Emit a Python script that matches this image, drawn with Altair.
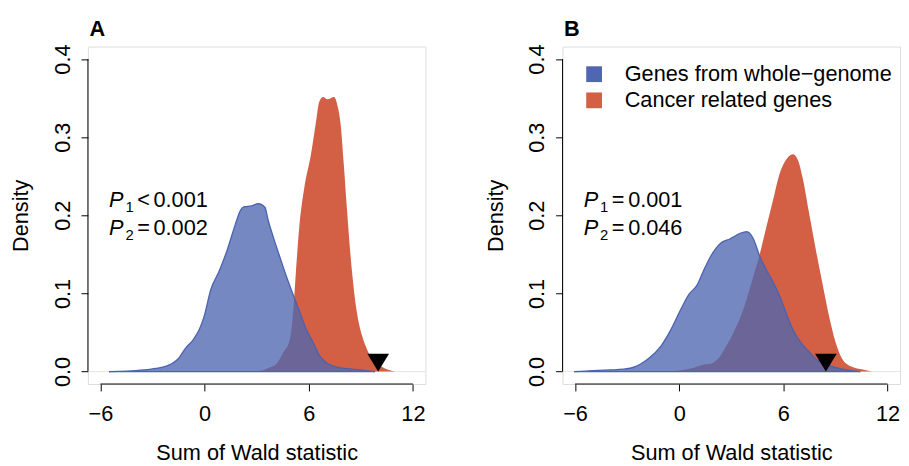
import altair as alt
import pandas as pd

FONT = "Liberation Sans"

# ---- scales / ticks (R-style 4% extension of xlim=c(-6,12), ylim=c(0,0.4)) ----
X_DOMAIN = [-6.72, 12.72]
Y_DOMAIN = [-0.016, 0.416]
X_TICKS = [-6, 0, 6, 12]
Y_TICKS = [0.0, 0.1, 0.2, 0.3, 0.4]

GROUPS = ["Genes from whole\u2212genome", "Cancer related genes"]
COLORS = ["#5066b0", "#d35f45"]
PANEL_LABELS = ["A", "B"]

# ---- Panel A densities ----
a_blue_x = [-5.5, -4.5, -3.5, -2.8, -2.2, -1.9, -1.53, -1.06, -0.68, -0.3, -0.02, 0.36, 0.83, 1.31,
            1.78, 2.06, 2.3, 2.7, 3.1, 3.48, 3.67, 3.96, 4.33, 4.71, 5.09, 5.47, 5.85, 6.23, 6.6,
            6.98, 7.55, 8.5, 9.82]
a_blue_y = [0.0, 0.0005, 0.002, 0.004, 0.007, 0.010, 0.016, 0.031, 0.040, 0.054, 0.071, 0.105, 0.128,
            0.156, 0.189, 0.206, 0.211, 0.212, 0.215, 0.210, 0.193, 0.172, 0.147, 0.122, 0.099,
            0.077, 0.054, 0.038, 0.021, 0.012, 0.006, 0.003, 0.0]
a_red_x = [2.6, 3.2, 3.6, 4.15, 4.55, 4.9, 5.1, 5.28, 5.47, 5.75, 6.13, 6.42, 6.6, 6.83, 7.08, 7.46,
           7.65, 7.84, 8.02, 8.22, 8.5, 8.78, 9.07, 9.35, 9.64, 10.2, 10.96]
a_red_y = [0.0, 0.001, 0.004, 0.010, 0.025, 0.040, 0.075, 0.134, 0.189, 0.236, 0.278, 0.320, 0.345,
           0.3515, 0.3486, 0.3515, 0.341, 0.316, 0.265, 0.202, 0.126, 0.075, 0.046, 0.029, 0.016,
           0.006, 0.0]

# ---- Panel B densities ----
b_blue_x = [-6.05, -5.0, -4.0, -3.2, -2.56, -2.2, -1.8, -1.04, -0.47, 0.1, 0.57, 1.04, 1.42, 1.8,
            2.37, 2.94, 3.51, 3.89, 4.27, 4.65, 5.02, 5.4, 5.78, 6.16, 6.54, 6.92, 7.49, 8.06,
            8.6, 9.2, 10.43]
b_blue_y = [0.0, 0.001, 0.002, 0.003, 0.006, 0.010, 0.016, 0.033, 0.054, 0.080, 0.099, 0.111, 0.130,
            0.147, 0.164, 0.170, 0.177, 0.179, 0.170, 0.147, 0.130, 0.115, 0.097, 0.075, 0.054,
            0.040, 0.025, 0.013, 0.008, 0.004, 0.0]
b_red_x = [-0.7, 0.2, 0.85, 1.42, 1.8, 2.0, 2.3, 2.56, 3.13, 3.7, 4.27, 4.65, 5.02, 5.4, 5.78, 6.16,
           6.54, 6.83, 7.11, 7.49, 7.87, 8.25, 8.63, 9.0, 9.39, 9.95, 10.7, 11.1]
b_red_y = [0.0, 0.002, 0.005, 0.009, 0.010, 0.012, 0.018, 0.027, 0.050, 0.080, 0.122, 0.151, 0.185,
           0.219, 0.253, 0.271, 0.278, 0.271, 0.248, 0.202, 0.156, 0.113, 0.071, 0.038, 0.016,
           0.006, 0.002, 0.0]

# observed statistic markers
markers = [10.0, 8.45]

# annotations
annot_x = -5.5
annot_y = [0.21, 0.1745]
subs = ["1", "2"]
a_rel = ["<", "="]
a_val = ["0.001", "0.002"]
b_rel = ["=", "="]
b_val = ["0.001", "0.046"]

TRI = "M-1,-1.64L1,-1.64L0,0Z"

xaxis = alt.Axis(values=X_TICKS, format="d", domain=False, grid=False, tickSize=7, tickColor="black",
                 tickWidth=1, labelFontSize=22, labelFont=FONT, labelColor="black", labelPadding=30,
                 labelBaseline="alphabetic", labelFlush=False, labelOverlap=False,
                 titleFontSize=22, titleFont=FONT, titleFontWeight="normal", titleColor="black",
                 titleX=171, titleY=76, titleBaseline="alphabetic")
yaxis = alt.Axis(values=Y_TICKS, format=".1f", domain=False, grid=False, tickSize=7, tickColor="black",
                 tickWidth=1, labelFontSize=22, labelFont=FONT, labelColor="black", labelPadding=12,
                 labelAngle=270, labelAlign="center", labelBaseline="alphabetic", labelFlush=False,
                 labelOverlap=False, titleFontSize=22, titleFont=FONT, titleFontWeight="normal",
                 titleColor="black", titleX=-61, titleY=171, titleAngle=270, titleBaseline="alphabetic")

XS = alt.Scale(domain=X_DOMAIN, nice=False, zero=False)
YS = alt.Scale(domain=Y_DOMAIN, nice=False, zero=False)


def X(field="x"):
    return alt.X(f"{field}:Q", scale=XS, axis=xaxis, title="Sum of Wald statistic")


def Y(field="y"):
    return alt.Y(f"{field}:Q", scale=YS, axis=yaxis, title="Density")


def panel(label, bx, by, rx, ry, marker, rels, vals, show_legend):
    blue = pd.DataFrame({"x": bx, "y": by, "group": GROUPS[0]})
    red = pd.DataFrame({"x": rx, "y": ry, "group": GROUPS[1]})
    if show_legend:
        leg = alt.Legend(orient="none", legendX=21, legendY=17, title=None, symbolType="square",
                         symbolSize=256, symbolOpacity=1, symbolStrokeWidth=0, labelFontSize=22,
                         labelFont=FONT, labelColor="black", labelOffset=20, rowPadding=4.5, padding=0,
                         labelLimit=0)
    else:
        leg = None
    color = alt.Color("group:N", scale=alt.Scale(domain=GROUPS, range=COLORS), legend=leg)

    zero = alt.Chart(pd.DataFrame({"x": [X_DOMAIN[0]], "x2": [X_DOMAIN[1]], "y": [0.0]})).mark_rule(
        color="#e6e6e6", strokeWidth=1).encode(x=X(), x2="x2:Q", y=Y())
    xline = alt.Chart(pd.DataFrame({"x": [X_TICKS[0]], "x2": [X_TICKS[-1]], "y": [Y_DOMAIN[0]]})).mark_rule(
        color="black", strokeWidth=1).encode(x=X(), x2="x2:Q", y=Y())
    yline = alt.Chart(pd.DataFrame({"x": [X_DOMAIN[0]], "y": [Y_TICKS[0]], "y2": [Y_TICKS[-1]]})).mark_rule(
        color="black", strokeWidth=1).encode(x=X(), y=Y(), y2="y2:Q")

    red_area = alt.Chart(red).mark_area(interpolate="monotone", opacity=1).encode(x=X(), y=Y(), color=color)
    blue_area = alt.Chart(blue).mark_area(interpolate="monotone", opacity=0.78).encode(x=X(), y=Y(), color=color)
    blue_line = alt.Chart(blue).mark_line(interpolate="monotone", color="#4a62b0", strokeWidth=1.3).encode(
        x=X(), y=Y())
    blue_base = alt.Chart(pd.DataFrame({"x": [bx[0]], "x2": [bx[-1]], "y": [0.0]})).mark_rule(
        color="#4a62b0", strokeWidth=1.3).encode(x=X(), x2="x2:Q", y=Y())

    tri = alt.Chart(pd.DataFrame({"x": [marker], "y": [0.0]})).mark_point(
        shape=TRI, filled=True, color="black", size=484, opacity=1, strokeWidth=0).encode(x=X(), y=Y())

    ann = pd.DataFrame({"x": [annot_x] * 2, "y": annot_y, "sub": subs, "rel": rels, "val": vals,
                        "p": ["P", "P"]})
    tbase = alt.Chart(ann)
    common = dict(align="left", baseline="alphabetic", font=FONT, color="black")
    t_p = tbase.mark_text(fontSize=22, fontStyle="italic", **common).encode(x=X(), y=Y(), text="p:N")
    t_s = tbase.mark_text(fontSize=15, dx=16.5, dy=4.5, **common).encode(x=X(), y=Y(), text="sub:N")
    t_r = tbase.mark_text(fontSize=22, dx=28.5, **common).encode(x=X(), y=Y(), text="rel:N")
    t_v = tbase.mark_text(fontSize=22, dx=45, **common).encode(x=X(), y=Y(), text="val:N")

    # panel letter at the top-left corner of the plotting region
    t_lab = alt.Chart(pd.DataFrame({"x": [X_DOMAIN[0]], "y": [Y_DOMAIN[1]], "lab": [label]})).mark_text(
        fontSize=22, fontWeight="bold", dx=1.5, dy=-11, **common).encode(x=X(), y=Y(), text="lab:N")

    return alt.layer(zero, red_area, blue_area, blue_line, blue_base, tri, t_p, t_s, t_r, t_v,
                     xline, yline, t_lab).properties(width=342, height=342)


pa = panel(PANEL_LABELS[0], a_blue_x, a_blue_y, a_red_x, a_red_y, markers[0], a_rel, a_val, False)
pb = panel(PANEL_LABELS[1], b_blue_x, b_blue_y, b_red_x, b_red_y, markers[1], b_rel, b_val, True)

chart = alt.hconcat(pa, pb, spacing=139, bounds="flush").resolve_scale(color="independent").properties(
    padding={"left": 1, "top": 6, "right": 0, "bottom": 0}
).configure_view(stroke=None).configure(background="white")

chart.save("out.html", embed_options={"renderer": "svg", "actions": False})
